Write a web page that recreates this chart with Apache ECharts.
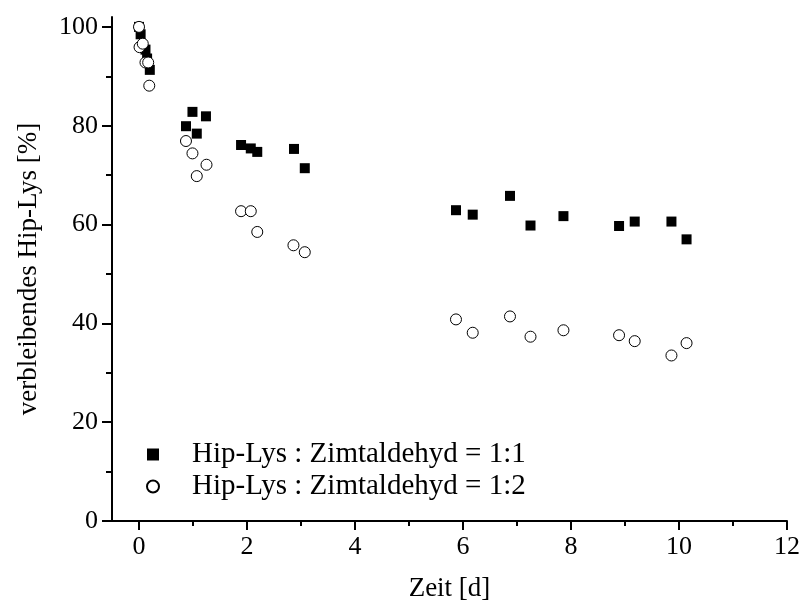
<!DOCTYPE html>
<html>
<head>
<meta charset="utf-8">
<script src="https://cdn.jsdelivr.net/npm/echarts@6/dist/echarts.min.js"></script>
<style>
  html, body { margin: 0; padding: 0; background: #fff; }
  #chart { width: 803px; height: 603px; }
</style>
</head>
<body>
<div id="chart"></div>
<script>
// Hip-Lys : Zimtaldehyd = 1:1 (gefüllte Quadrate)
var timeA = [0, 0.03, 0.12, 0.15, 0.2, 0.87, 0.99, 1.07, 1.24, 1.89, 2.07, 2.19, 2.87, 3.07,
             5.87, 6.18, 6.87, 7.25, 7.86, 8.89, 9.18, 9.86, 10.14];
var restA = [100, 98.5, 95.4, 93.6, 91.3, 79.9, 82.8, 78.4, 81.9, 76.1, 75.4, 74.7, 75.3, 71.4,
             62.9, 62.0, 65.8, 59.8, 61.7, 59.7, 60.6, 60.6, 57.0];
// Hip-Lys : Zimtaldehyd = 1:2 (offene Kreise)
var timeB = [0, 0.01, 0.07, 0.12, 0.17, 0.19, 0.87, 0.99, 1.07, 1.25, 1.89, 2.07, 2.19, 2.86, 3.07,
             5.87, 6.18, 6.87, 7.25, 7.86, 8.89, 9.18, 9.86, 10.14];
var restB = [100, 95.9, 96.6, 92.8, 92.8, 88.1, 76.9, 74.4, 69.8, 72.1, 62.7, 62.7, 58.5, 55.8, 54.4,
             40.8, 38.1, 41.4, 37.3, 38.6, 37.6, 36.4, 33.5, 36.0];

var xMajor = [0, 2, 4, 6, 8, 10, 12];
var xMinor = [1, 3, 5, 7, 9, 11];
var yMajor = [0, 20, 40, 60, 80, 100];
var yMinor = [10, 30, 50, 70, 90];

var nameA = 'Hip-Lys : Zimtaldehyd = 1:1';
var nameB = 'Hip-Lys : Zimtaldehyd = 1:2';

function pairs(xs, ys) {
  return xs.map(function (x, i) { return [x, ys[i]]; });
}

var font = 'Liberation Serif';
var chart = echarts.init(document.getElementById('chart'));

var option = {
  backgroundColor: '#fff',
  animation: false,
  grid: { left: 112, right: 16, top: 17, bottom: 82, outerBoundsMode: 'none' },
  legend: {
    orient: 'vertical',
    left: 141,
    top: 435,
    padding: 5,
    itemWidth: 12,
    itemHeight: 12,
    itemGap: 3,
    textStyle: { fontFamily: font, fontSize: 29, color: '#000', padding: [0, 0, 0, 28] },
    data: [nameA, nameB]
  },
  xAxis: [
    {
      type: 'value', min: -0.5, max: 12,
      name: 'Zeit [d]', nameLocation: 'middle', nameGap: 54,
      nameTextStyle: { fontFamily: font, fontSize: 27, color: '#000' },
      axisLine: { show: true, onZero: false, lineStyle: { color: '#000', width: 2 } },
      axisTick: { show: true, length: 9, customValues: xMajor, lineStyle: { color: '#000', width: 2 } },
      axisLabel: { customValues: xMajor, fontFamily: font, fontSize: 26, color: '#000', margin: 13 },
      splitLine: { show: false }
    },
    {
      type: 'value', min: -0.5, max: 12, position: 'bottom',
      axisLine: { show: false, onZero: false },
      axisTick: { show: true, length: 5, customValues: xMinor, lineStyle: { color: '#000', width: 2 } },
      axisLabel: { show: false },
      splitLine: { show: false }
    }
  ],
  yAxis: [
    {
      type: 'value', min: 0, max: 102,
      name: 'verbleibendes Hip-Lys [%]', nameLocation: 'middle', nameGap: 70,
      nameTextStyle: { fontFamily: font, fontSize: 27, color: '#000' },
      axisLine: { show: true, onZero: false, lineStyle: { color: '#000', width: 2 } },
      axisTick: { show: true, length: 10, customValues: yMajor, lineStyle: { color: '#000', width: 2 } },
      axisLabel: { customValues: yMajor, fontFamily: font, fontSize: 26, color: '#000', margin: 14 },
      splitLine: { show: false }
    },
    {
      type: 'value', min: 0, max: 102, position: 'left',
      axisLine: { show: false, onZero: false },
      axisTick: { show: true, length: 6, customValues: yMinor, lineStyle: { color: '#000', width: 2 } },
      axisLabel: { show: false },
      splitLine: { show: false }
    }
  ],
  series: [
    {
      name: nameA, type: 'scatter', symbol: 'rect', symbolSize: 10,
      itemStyle: { color: '#000', opacity: 1 },
      data: pairs(timeA, restA)
    },
    {
      name: nameB, type: 'scatter', symbol: 'circle', symbolSize: 11,
      itemStyle: { color: '#fff', borderColor: '#000', borderWidth: 1, opacity: 1 },
      data: pairs(timeB, restB)
    }
  ]
};

chart.setOption(option);
</script>
</body>
</html>
